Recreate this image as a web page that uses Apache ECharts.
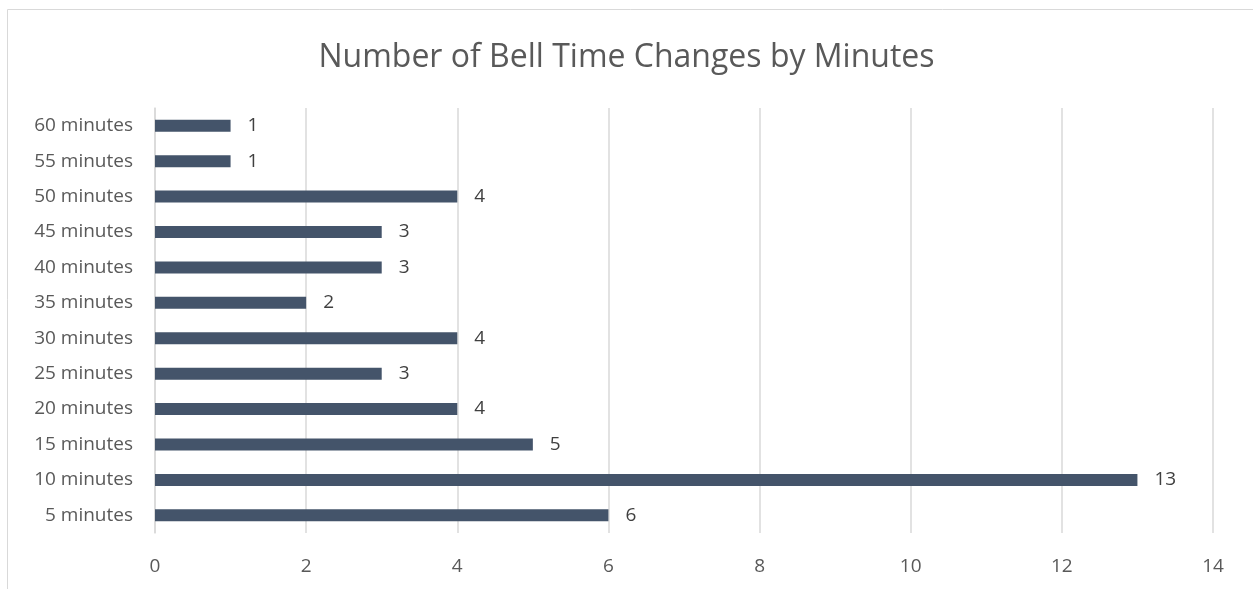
<!DOCTYPE html>
<html>
<head>
<meta charset="utf-8">
<script src="https://cdn.jsdelivr.net/npm/echarts@6/dist/echarts.min.js"></script>
<style>
    html, body { margin: 0; padding: 0; background: #ffffff; }
    #chart { width: 1253px; height: 589px; }
</style>
</head>
<body>
<div id="chart"></div>
<script>
// data, bottom row first
var categories = ['5 minutes', '10 minutes', '15 minutes', '20 minutes', '25 minutes', '30 minutes',
    '35 minutes', '40 minutes', '45 minutes', '50 minutes', '55 minutes', '60 minutes'];
var changes = [6, 13, 5, 4, 3, 4, 2, 3, 3, 4, 1, 1];
var xTicks = [0, 2, 4, 6, 8, 10, 12, 14];

var font = '"Open Sans", "Liberation Sans", sans-serif';
var chart = echarts.init(document.getElementById('chart'));

chart.setOption({
    animation: false,
    title: {
        text: 'Number of Bell Time Changes by Minutes',
        left: 'center',
        top: 37,
        textStyle: { fontFamily: font, fontSize: 32, fontWeight: 'normal', color: '#595959' }
    },
    graphic: [{
        // chart frame, cropped on the right and bottom like the picture
        type: 'rect',
        shape: { x: 7.5, y: 9.5, width: 1300, height: 700 },
        style: { fill: 'none', stroke: '#d9d9d9', lineWidth: 1 },
        silent: true
    }],
    grid: { left: 155, right: 40, top: 108, bottom: 56, containLabel: false },
    xAxis: {
        type: 'value',
        min: xTicks[0],
        max: xTicks[xTicks.length - 1],
        interval: 2,
        axisLine: { show: false },
        axisTick: { show: false },
        splitLine: { lineStyle: { color: '#d9d9d9', width: 1.5 } },
        axisLabel: { margin: 24, fontFamily: font, fontSize: 19, color: '#595959' }
    },
    yAxis: {
        type: 'category',
        data: categories,
        axisLine: { lineStyle: { color: '#d9d9d9', width: 1.5 } },
        axisTick: { show: false },
        axisLabel: { margin: 22, fontFamily: font, fontSize: 19, color: '#595959' }
    },
    series: [{
        type: 'bar',
        data: changes,
        barWidth: 12,
        itemStyle: { color: '#44546a' },
        label: {
            show: true,
            position: 'right',
            distance: 17,
            fontFamily: font,
            fontSize: 19,
            color: '#404040'
        }
    }]
});
</script>
</body>
</html>
